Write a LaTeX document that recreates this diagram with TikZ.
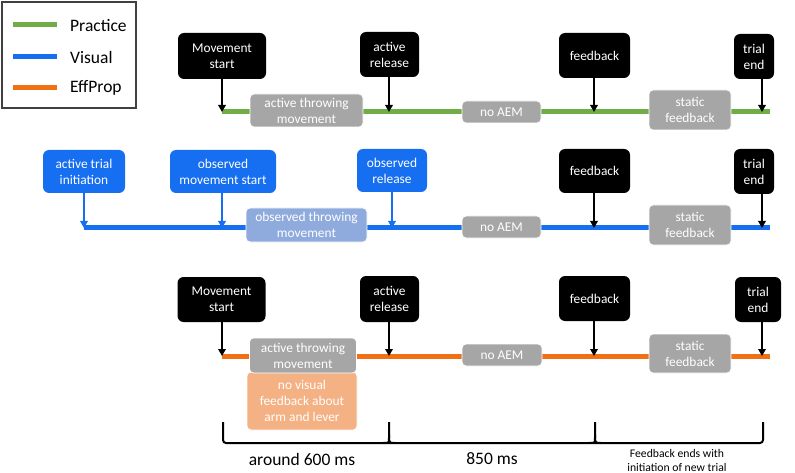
\documentclass[tikz,border=0pt]{standalone}
\usepackage{fontspec}
\setmainfont{Carlito}
\usepackage{tikz}
\usetikzlibrary{arrows.meta}

\definecolor{prgreen}{RGB}{112,173,71}
\definecolor{visblue}{RGB}{22,110,240}
\definecolor{efforange}{RGB}{242,112,20}
\definecolor{boxgray}{RGB}{166,166,166}
\definecolor{obsblue}{RGB}{143,170,220}
\definecolor{noorange}{RGB}{244,177,131}

\tikzset{
  evbox/.style={fill=black, text=white, rounded corners=6, inner sep=0, align=center,
    font=\fontsize{13.4}{16}\selectfont},
  visbox/.style={evbox, fill=visblue},
  phbox/.style={fill=boxgray, draw=white, line width=0.8, text=white, rounded corners=4,
    inner sep=0, align=center, font=\fontsize{13.4}{16}\selectfont},
  evarr/.style={-{Triangle[length=7,width=7.5]}, line width=1.8},
  tline/.style={line width=5},
  brace/.style={line width=2, rounded corners=3},
  legtext/.style={anchor=west, inner sep=0, font=\fontsize{17.5}{20}\selectfont},
}

\begin{document}
\begin{tikzpicture}[x=1pt, y=-1pt]

\useasboundingbox ( 0, 0 ) rectangle ( 795, 473 );

% Legend
\draw [black!75, line width=1.2] ( 2, 2 ) rectangle ( 136, 108 );
\draw [tline, prgreen] ( 13, 25 ) -- ++( 44, 0 );
\draw [tline, visblue] ( 13, 57 ) -- ++( 44, 0 );
\draw [tline, efforange] ( 13, 88 ) -- ++( 44, 0 );
\node (lgp) at ( 70, 26 ) [legtext] {Practice};
\node (lgv) at ( 70, 57 ) [legtext] {Visual};
\node (lge) at ( 70, 88 ) [legtext] {EffProp};

% Practice timeline
\coordinate (s1) at ( 222, 112 );
\coordinate (e1) at ( 770, 112 );
\coordinate (p1a) at ( 222, 112 );
\coordinate (p1b) at ( 389, 112 );
\coordinate (p1c) at ( 594, 112 );
\coordinate (p1d) at ( 762, 112 );
\draw [tline, prgreen] (s1) -- (e1);

\node (ms1) at ( 222, 56 ) [evbox, minimum width=88, minimum height=46] {Movement\\start};
\node (ar1) at ( 389.5, 54.5 ) [evbox, minimum width=59, minimum height=45] {active\\release};
\node (fb1) at ( 594.5, 55.5 ) [evbox, minimum width=71, minimum height=45] {feedback};
\node (te1) at ( 754, 56.5 ) [evbox, minimum width=40, minimum height=45] {trial\\end};

\node (atm1) at ( 306.5, 110.5 ) [phbox, minimum width=113, minimum height=33] {active throwing\\movement};
\node (noa1) at ( 501.5, 112 ) [phbox, minimum width=79, minimum height=22] {no AEM};
\node (sf1) at ( 690, 110 ) [phbox, minimum width=82, minimum height=40] {static\\feedback};

\draw [evarr] (ms1.south -| p1a) -- (p1a);
\draw [evarr] (ar1.south -| p1b) -- (p1b);
\draw [evarr] (fb1.south -| p1c) -- (p1c);
\draw [evarr] (te1.south -| p1d) -- (p1d);

% Visual timeline
\coordinate (s2) at ( 84, 228 );
\coordinate (e2) at ( 770, 228 );
\coordinate (p2a) at ( 84, 228 );
\coordinate (p2b) at ( 222, 228 );
\coordinate (p2c) at ( 392, 228 );
\coordinate (p2d) at ( 594, 228 );
\coordinate (p2e) at ( 762, 228 );
\draw [tline, visblue] (s2) -- (e2);

\node (ati) at ( 84, 171.5 ) [visbox, minimum width=82, minimum height=43] {active trial\\initiation};
\node (oms) at ( 223, 171.5 ) [visbox, minimum width=106, minimum height=43] {observed\\movement start};
\node (orl) at ( 392, 170.5 ) [visbox, minimum width=70, minimum height=43] {observed\\release};
\node (fb2) at ( 594.5, 171 ) [evbox, minimum width=71, minimum height=44] {feedback};
\node (te2) at ( 754, 171.5 ) [evbox, minimum width=40, minimum height=45] {trial\\end};

\node (otm) at ( 306.5, 225 ) [phbox, fill=obsblue, minimum width=121, minimum height=34] {observed throwing\\movement};
\node (noa2) at ( 501.5, 227 ) [phbox, minimum width=79, minimum height=22] {no AEM};
\node (sf2) at ( 690, 225 ) [phbox, minimum width=82, minimum height=40] {static\\feedback};

\draw [evarr, visblue] (ati.south -| p2a) -- (p2a);
\draw [evarr, visblue] (oms.south -| p2b) -- (p2b);
\draw [evarr, visblue] (orl.south -| p2c) -- (p2c);
\draw [evarr] (fb2.south -| p2d) -- (p2d);
\draw [evarr] (te2.south -| p2e) -- (p2e);

% EffProp timeline
\coordinate (s3) at ( 222, 356 );
\coordinate (e3) at ( 770, 356 );
\coordinate (p3a) at ( 222, 356 );
\coordinate (p3b) at ( 389, 356 );
\coordinate (p3c) at ( 594, 356 );
\coordinate (p3d) at ( 762, 356 );
\draw [tline, efforange] (s3) -- (e3);

\node (ms3) at ( 221.5, 299.5 ) [evbox, minimum width=88, minimum height=45] {Movement\\start};
\node (ar3) at ( 389.5, 299 ) [evbox, minimum width=59, minimum height=46] {active\\release};
\node (fb3) at ( 594.5, 298.5 ) [evbox, minimum width=71, minimum height=45] {feedback};
\node (te3) at ( 758, 299.5 ) [evbox, minimum width=46, minimum height=45] {trial\\end};

\node (nvf) at ( 302, 401 ) [phbox, fill=noorange, minimum width=110, minimum height=58] {no visual\\feedback about\\arm and lever};
\node (atm3) at ( 303, 355.5 ) [phbox, minimum width=107, minimum height=35] {active throwing\\movement};
\node (noa3) at ( 502, 355 ) [phbox, minimum width=80, minimum height=22] {no AEM};
\node (sf3) at ( 690, 353.5 ) [phbox, minimum width=82, minimum height=39] {static\\feedback};

\draw [evarr] (ms3.south -| p3a) -- (p3a);
\draw [evarr] (ar3.south -| p3b) -- (p3b);
\draw [evarr] (fb3.south -| p3c) -- (p3c);
\draw [evarr] (te3.south -| p3d) -- (p3d);

% Durations
\draw [brace] ( 223, 422 ) -- ( 223, 443 ) -- ( 763, 443 ) -- ( 763, 422 );
\draw [brace] ( 383, 443 ) .. controls ( 389, 443 ) .. ( 389, 435 ) -- ( 389, 422 );
\draw [brace] ( 395, 443 ) .. controls ( 389, 443 ) .. ( 389, 435 );
\draw [brace] ( 589, 443 ) .. controls ( 595, 443 ) .. ( 595, 435 ) -- ( 595, 422 );
\draw [brace] ( 601, 443 ) .. controls ( 595, 443 ) .. ( 595, 435 );

\node (d600) at ( 302, 459 ) [font=\fontsize{17.5}{20}\selectfont] {around 600 ms};
\node (d850) at ( 492, 459 ) [font=\fontsize{17.5}{20}\selectfont] {850 ms};
\node (dfb) at ( 677, 460.5 ) [align=center, inner sep=0, font=\fontsize{11.7}{14}\selectfont] {Feedback ends with\\initiation of new trial};

\end{tikzpicture}
\end{document}
